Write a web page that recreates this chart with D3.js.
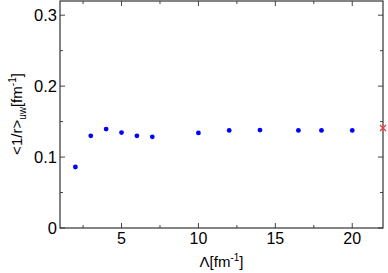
<!DOCTYPE html>
<html>
<head>
<meta charset="utf-8">
<script src="https://cdn.jsdelivr.net/npm/d3@7"></script>
<style>
  body { margin: 0; background: #fff; }
  svg { font-family: "Liberation Sans", Arial, sans-serif; }
</style>
</head>
<body>
<div id="chart"></div>
<script>
// data
const lambdaVals = [2, 3, 4, 5, 6, 7, 10, 12, 14, 16.5, 18, 20];
const invR = [0.086, 0.130, 0.1395, 0.1345, 0.130, 0.1285, 0.134, 0.1375, 0.138, 0.1375, 0.1375, 0.1375];
const refPoint = [{ x: 22, y: 0.141 }];
const xTicks = [5, 10, 15, 20];
const xMinor = [2.5, 7.5, 12.5, 17.5];
const yTicks = [0, 0.1, 0.2, 0.3];
const yMinor = [0.05, 0.15, 0.25];

const W = 388, H = 273;
const m = { left: 60, right: 5, top: 1, bottom: 45 };

const svg = d3.select('#chart').append('svg')
    .attr('width', W).attr('height', H);

let x = d3.scaleLinear().domain([1, 22]).range([m.left, W - m.right]);
let y = d3.scaleLinear().domain([0, 0.32]).range([H - m.bottom, m.top]);

let g = svg.append('g');

// inside ticks on all four sides
function tickLines(vals, len) {
    vals.forEach(v => {
        g.append('line').attr('x1', x(v)).attr('x2', x(v))
            .attr('y1', y.range()[0]).attr('y2', y.range()[0] - len)
            .attr('stroke', '#444');
        g.append('line').attr('x1', x(v)).attr('x2', x(v))
            .attr('y1', y.range()[1]).attr('y2', y.range()[1] + len)
            .attr('stroke', '#444');
    });
}
function yTickLines(vals, len) {
    vals.forEach(v => {
        g.append('line').attr('y1', y(v)).attr('y2', y(v))
            .attr('x1', x.range()[0]).attr('x2', x.range()[0] + len)
            .attr('stroke', '#444');
        g.append('line').attr('y1', y(v)).attr('y2', y(v))
            .attr('x1', x.range()[1]).attr('x2', x.range()[1] - len)
            .attr('stroke', '#444');
    });
}
tickLines(xTicks, 5);
tickLines(xMinor, 3);
yTickLines(yTicks, 5);
yTickLines(yMinor, 3);

// frame
g.append('rect')
    .attr('x', x.range()[0]).attr('y', y.range()[1])
    .attr('width', x.range()[1] - x.range()[0])
    .attr('height', y.range()[0] - y.range()[1])
    .attr('fill', 'none').attr('stroke', '#333').attr('stroke-width', 1.2);

// tick labels
g.selectAll('.xl').data(xTicks).enter().append('text')
    .attr('x', d => x(d)).attr('y', H - m.bottom + 16)
    .attr('text-anchor', 'middle').attr('font-size', 16)
    .text(d => d);

g.selectAll('.yl').data(yTicks).enter().append('text')
    .attr('x', m.left - 3).attr('y', d => y(d) + 6)
    .attr('text-anchor', 'end').attr('font-size', 16.5)
    .text(d => d === 0 ? '0' : d3.format('.1f')(d));

// axis titles
let xt = svg.append('text')
    .attr('x', (x.range()[0] + x.range()[1]) / 2).attr('y', 267)
    .attr('text-anchor', 'middle').attr('font-size', 15);
xt.append('tspan').text('Λ[fm');
xt.append('tspan').attr('dy', -6).attr('font-size', 10).text('-1');
xt.append('tspan').attr('dy', 6).text(']');

let yt = svg.append('text')
    .attr('transform', 'translate(22,114) rotate(-90)')
    .attr('text-anchor', 'middle').attr('font-size', 15);
yt.append('tspan').text('<1/r>');
yt.append('tspan').attr('dy', 4).attr('font-size', 10).text('uw');
yt.append('tspan').attr('dy', -4).text('[fm');
yt.append('tspan').attr('dy', -6).attr('font-size', 10).text('-1');
yt.append('tspan').attr('dy', 6).text(']');

// data points
g.selectAll('.pt').data(lambdaVals).enter().append('circle')
    .attr('cx', d => x(d)).attr('cy', (d, i) => y(invR[i]))
    .attr('r', 2.4).attr('fill', '#0000ff');

// red cross
refPoint.forEach(p => {
    let s = 3;
    g.append('path')
        .attr('d', `M${x(p.x) - s},${y(p.y) - s}L${x(p.x) + s},${y(p.y) + s}M${x(p.x) - s},${y(p.y) + s}L${x(p.x) + s},${y(p.y) - s}`)
        .attr('stroke', '#ff3030').attr('stroke-width', 1.3);
});
</script>
</body>
</html>
